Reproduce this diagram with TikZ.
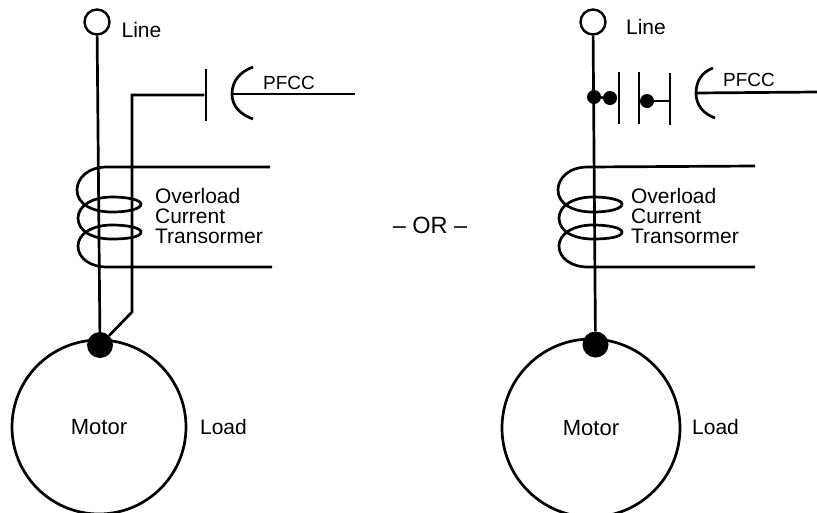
\documentclass[tikz,border=0pt]{standalone}
\usepackage{fontspec}
\setmainfont{Liberation Sans}
\usepackage{tikz}
\tikzstyle{txt} = [font=\fontsize{21}{20}\selectfont, inner sep=0pt]
\tikzstyle{term} = [circle, draw, line width=2.4pt, minimum size=25pt, inner sep=0pt]
\tikzstyle{dot} = [circle, fill=black, minimum size=14pt, inner sep=0pt]
\tikzstyle{junction} = [circle, fill=black, minimum size=26pt, inner sep=0pt]
\tikzstyle{plate} = [rectangle, fill=black, minimum width=2.8pt, minimum height=52pt, inner sep=0pt]
\tikzstyle{motor} = [circle, draw, line width=2.7pt, font=\fontsize{22}{22}\selectfont, inner sep=0pt]
\tikzstyle{line} = [draw, line width=2.7pt]
\newcommand{\coil}[3]{\path [line, xshift=#1] (#2) -- (107,167)
   .. controls (88,167) and (77,178) .. (77,190)
   .. controls (77,204) and (92,212) .. (112,212)
   .. controls (128,212) and (141,209) .. (141,204)
   .. controls (141,200) and (128,197) .. (112,197)
   .. controls (92,197) and (78,206) .. (78,218)
   .. controls (78,231) and (92,239) .. (112,239)
   .. controls (128,239) and (141,237) .. (141,232)
   .. controls (141,228) and (128,225) .. (112,225)
   .. controls (92,225) and (78,234) .. (78,246)
   .. controls (78,258) and (90,267) .. (107,267) -- (#3);}
\begin{document}
\begin{tikzpicture}[x=1pt, y=-1pt]
      \useasboundingbox (0,0) rectangle (817,512);

      \node [motor, minimum size=174pt] (motora) at (99,427) {Motor};
      \node [junction, above of=motora, node distance=82pt, xshift=1pt] (joina) {};
      \node [term] (linea) at (97,22) {};
      \node [txt, right of=linea, node distance=44.5pt, yshift=-8pt] (linetexta) {Line};
      \node [txt, right of=motora, node distance=124.5pt] (loada) {Load};
      \node [plate] (platea) at (206,95) {};
      \node [txt, font=\fontsize{19}{20}\selectfont] (pfcca) at (289,83) {PFCC};
      \node [txt, align=left] (cta) at (209,216) {Overload\\Current\\Transormer};
      \coordinate (cornera) at (132,95);
      \coordinate (benda) at (132,312);
      \coordinate (arcta) at (253,67);
      \coordinate (arcma) at (232,94);
      \coordinate (arcba) at (253,119);
      \coordinate (enda) at (355,94);
      \coordinate (coiltopa) at (270,167);
      \coordinate (coilbota) at (272,267);

      \path [line] (linea) -- (joina);
      \path [line] (platea) -- (cornera) -- (benda) -- (joina);
      \path [line] (arcta) to [out=200, in=90] (arcma) to [out=-90, in=160] (arcba);
      \path [line] (arcma) -- (enda);
      \coil{0pt}{coiltopa}{coilbota}

      \node [txt, font=\fontsize{23.5}{24}\selectfont] (ortext) at (430,225) {– OR –};

      \node [motor, minimum size=178pt] (motorb) at (591,428) {Motor};
      \node [junction, above of=motorb, node distance=83.5pt, xshift=4.5pt] (joinb) {};
      \node [term] (lineb) at (593,22) {};
      \node [txt, right of=lineb, node distance=53pt, yshift=-5pt] (linetextb) {Line};
      \node [txt, right of=motorb, node distance=124.5pt, yshift=1pt] (loadb) {Load};
      \node [dot] (dotb) at (594,97) {};
      \node [dot, right of=dotb, node distance=16pt, yshift=-1pt] (dotc) {};
      \node [plate, right of=dotc, node distance=9pt] (plateb) {};
      \node [plate, right of=plateb, node distance=20pt] (platec) {};
      \node [dot, right of=platec, node distance=8pt, yshift=-3pt] (dotd) {};
      \node [plate, right of=platec, node distance=31pt, yshift=-1pt] (plated) {};
      \node [txt, font=\fontsize{19}{20}\selectfont] (pfccb) at (749,80) {PFCC};
      \node [txt, align=left] (ctb) at (685,216) {Overload\\Current\\Transormer};
      \coordinate (arctb) at (713,68);
      \coordinate (arcmb) at (696,93);
      \coordinate (arcbb) at (715,118);
      \coordinate (endb) at (817,92);
      \coordinate (coiltopb) at (755,166);
      \coordinate (coilbotb) at (755,267);

      \path [line] (lineb) -- (joinb);
      \path [line] (dotb) -- (dotc);
      \path [line] (dotd) -- (dotd -| plated);
      \path [line] (arctb) to [out=200, in=90] (arcmb) to [out=-90, in=160] (arcbb);
      \path [line] (arcmb) -- (endb);
      \coil{481pt}{coiltopb}{coilbotb}
   \end{tikzpicture}
\end{document}
